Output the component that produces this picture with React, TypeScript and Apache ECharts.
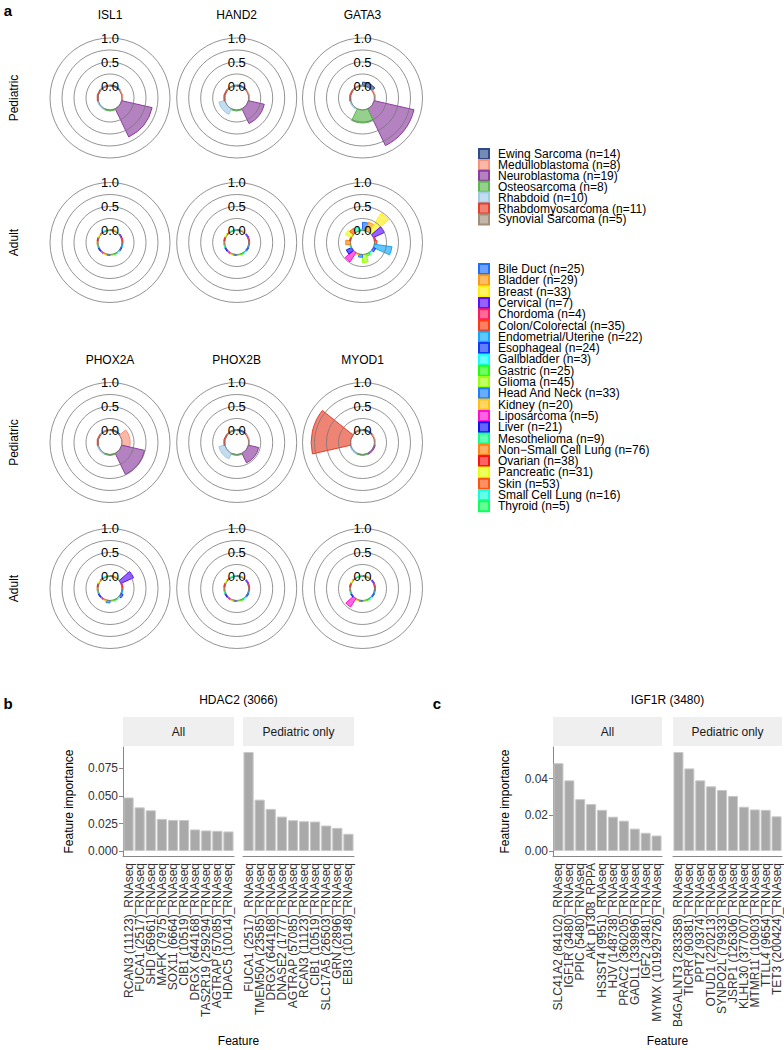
import React, { useEffect, useRef } from 'react';
import * as echarts from 'echarts';

const FONT = '"Liberation Sans", Arial, sans-serif';

// ---------- panel a data ----------
const genes = ['ISL1', 'HAND2', 'GATA3', 'PHOX2A', 'PHOX2B', 'MYOD1'];

const pedCategories = [
  'Ewing Sarcoma (n=14)',
  'Medulloblastoma (n=8)',
  'Neuroblastoma (n=19)',
  'Osteosarcoma (n=8)',
  'Rhabdoid (n=10)',
  'Rhabdomyosarcoma (n=11)',
  'Synovial Sarcoma (n=5)',
];
const pedColors = ['#2e4b8b', '#f7937a', '#8c3d9f', '#5cb84e', '#9fcbe6', '#e6402a', '#a38e79'];

const adultCategories = [
  'Bile Duct (n=25)',
  'Bladder (n=29)',
  'Breast (n=33)',
  'Cervical (n=7)',
  'Chordoma (n=4)',
  'Colon/Colorectal (n=35)',
  'Endometrial/Uterine (n=22)',
  'Esophageal (n=24)',
  'Gallbladder (n=3)',
  'Gastric (n=25)',
  'Glioma (n=45)',
  'Head And Neck (n=33)',
  'Kidney (n=20)',
  'Liposarcoma (n=5)',
  'Liver (n=21)',
  'Mesothelioma (n=9)',
  'Non\u2212Small Cell Lung (n=76)',
  'Ovarian (n=38)',
  'Pancreatic (n=31)',
  'Skin (n=53)',
  'Small Cell Lung (n=16)',
  'Thyroid (n=5)',
];
const adultColors = [
  '#1f6fff', '#ff9a10', '#ffee10', '#5a10ff', '#ff1a5e', '#ff3a10',
  '#10a8ff', '#1038ff', '#10ffff', '#20ff10', '#9cff10', '#1a80ff',
  '#ffc010', '#ff10d0', '#1010ff', '#10ff88', '#ff8410', '#ff1010',
  '#e4ff10', '#ff5410', '#10ffd8', '#10ff5a',
];

// pediatric values (one per pediatric category)
const pedISL1 = [0, 0, 0.65, 0, 0, 0, 0];
const pedHAND2 = [0, 0, 0.34, 0, 0.13, 0, 0];
const pedGATA3 = [0.08, 0, 0.85, 0.27, 0, 0, 0];
const pedPHOX2A = [0, 0.17, 0.49, 0, 0, 0, 0];
const pedPHOX2B = [0, 0, 0.22, 0, 0.13, 0, 0];
const pedMYOD1 = [0, 0, 0, 0, 0, 0.82, 0];

// adult values (one per adult category)
const adultISL1 = [0, 0, 0, 0, 0, 0, 0, 0, 0, 0, 0, 0, 0, 0, 0, 0, 0, 0, 0, 0, 0, 0];
const adultHAND2 = [0, 0, 0, 0, 0, 0, 0, 0, 0, 0, 0, 0, 0, 0, 0, 0, 0, 0, 0, 0, 0, 0];
const adultGATA3 = [0.17, 0.19, 0.47, 0.25, 0.03, 0.05, 0.37, 0.05, 0, 0.05, 0.17, 0.06, 0.02, 0.23, 0.12, 0, 0.1, 0.02, 0.14, 0.1, 0.08, 0];
const adultPHOX2A = [0, 0, 0, 0.29, 0, 0, 0, 0.05, 0, 0, 0, 0.05, 0, 0, 0, 0, 0, 0, 0, 0, 0, 0];
const adultPHOX2B = [0, 0, 0, 0, 0, 0, 0, 0, 0, 0, 0, 0, 0, 0, 0, 0, 0, 0, 0, 0, 0, 0];
const adultMYOD1 = [0, 0, 0, 0, 0, 0, 0, 0, 0, 0, 0, 0, 0, 0.21, 0, 0, 0, 0, 0, 0, 0, 0];

const radialTicks = [0, 0.5, 1];

// ---------- panel b data ----------
const hdacAllLabels = [
  'RCAN3 (11123)_RNAseq', 'FUCA1 (2517)_RNAseq', 'SHD (56961)_RNAseq', 'MAFK (7975)_RNAseq',
  'SOX11 (6664)_RNAseq', 'CIB1 (10519)_RNAseq', 'DRGX (644168)_RNAseq', 'TAS2R19 (259294)_RNAseq',
  'AGTRAP (57085)_RNAseq', 'HDAC5 (10014)_RNAseq',
];
const hdacAllValues = [0.0487, 0.0397, 0.037, 0.0292, 0.0283, 0.0282, 0.0196, 0.0187, 0.0184, 0.0178];
const hdacPedLabels = [
  'FUCA1 (2517)_RNAseq', 'TMEM50A (23585)_RNAseq', 'DRGX (644168)_RNAseq', 'DNASE2 (1777)_RNAseq',
  'AGTRAP (57085)_RNAseq', 'RCAN3 (11123)_RNAseq', 'CIB1 (10519)_RNAseq', 'SLC17A5 (26503)_RNAseq',
  'GRN (2896)_RNAseq', 'EBI3 (10148)_RNAseq',
];
const hdacPedValues = [0.09, 0.0467, 0.0383, 0.0313, 0.028, 0.0271, 0.0268, 0.0232, 0.0211, 0.0157];
const hdacTicks = [0, 0.025, 0.05, 0.075];

// ---------- panel c data ----------
const igfAllLabels = [
  'SLC41A2 (84102)_RNAseq', 'IGF1R (3480)_RNAseq', 'PPIC (5480)_RNAseq', 'Akt_pT308_RPPA',
  'HS3ST4 (9951)_RNAseq', 'HJV (148738)_RNAseq', 'PRAC2 (360205)_RNAseq', 'GADL1 (339896)_RNAseq',
  'IGF2 (3481)_RNAseq', 'MYMX (101929726)_RNAseq',
];
const igfAllValues = [0.0486, 0.0391, 0.0287, 0.026, 0.0228, 0.019, 0.0168, 0.0124, 0.0101, 0.0086];
const igfPedLabels = [
  'B4GALNT3 (283358)_RNAseq', 'TICRR (90381)_RNAseq', 'PPT2 (9374)_RNAseq', 'OTUD1 (220213)_RNAseq',
  'SYNPO2L (79933)_RNAseq', 'JSRP1 (126306)_RNAseq', 'KLHL30 (377007)_RNAseq', 'MTMR11 (10903)_RNAseq',
  'TTLL4 (9654)_RNAseq', 'TET3 (200424)_RNAseq',
];
const igfPedValues = [0.0548, 0.0457, 0.0391, 0.0358, 0.0338, 0.0305, 0.0245, 0.023, 0.0228, 0.0192];
const igfTicks = [0, 0.02, 0.04];

function rgba(hex: string, a: number) {
  const n = parseInt(hex.slice(1), 16);
  return `rgba(${(n >> 16) & 255},${(n >> 8) & 255},${n & 255},${a})`;
}

function buildOption() {
  const pedValues = [pedISL1, pedHAND2, pedGATA3, pedPHOX2A, pedPHOX2B, pedMYOD1];
  const adultValues = [adultISL1, adultHAND2, adultGATA3, adultPHOX2A, adultPHOX2B, adultMYOD1];
  const colX = [110, 236.7, 362.5];
  const pedY = [98, 442.5];
  const adultY = [242.5, 588.5];
  const R = 60;

  const polar: any[] = [];
  const radiusAxis: any[] = [];
  const angleAxis: any[] = [];
  const series: any[] = [];
  const graphic: any[] = [];

  const addPolar = (cx: number, cy: number, cats: string[], colors: string[], vals: number[]) => {
    const pi = polar.length;
    polar.push({ center: [cx, cy], radius: R });
    radiusAxis.push({
      polarIndex: pi,
      type: 'value',
      min: -0.25,
      max: 1,
      interval: 0.25,
      z: 3,
      axisLine: { show: false },
      axisTick: { show: false },
      axisLabel: {
        formatter: (v: number) => (radialTicks.some((t) => Math.abs(t - v) < 1e-9) ? v.toFixed(1) : ''),
        margin: 0,
        align: 'center',
        verticalAlign: 'middle',
        fontSize: 13,
        fontFamily: FONT,
        color: '#000',
      },
      splitLine: { show: true, lineStyle: { color: '#777', width: 0.8 } },
    });
    angleAxis.push({
      polarIndex: pi,
      type: 'category',
      data: cats,
      startAngle: 90,
      clockwise: true,
      boundaryGap: true,
      axisLine: { show: false },
      axisTick: { show: false },
      axisLabel: { show: false },
      splitLine: { show: false },
    });
    cats.forEach((name, c) => {
      series.push({
        type: 'bar',
        coordinateSystem: 'polar',
        polarIndex: pi,
        name,
        data: cats.map((_, k) => (k === c ? vals[c] : '-')),
        barGap: '-100%',
        barCategoryGap: '0%',
        barMinHeight: 1,
        silent: true,
        z: 2,
        itemStyle: { color: rgba(colors[c], 0.65), borderColor: colors[c], borderWidth: 1 },
      });
    });
  };

  genes.forEach((g, gi) => {
    const col = gi % 3;
    const blk = Math.floor(gi / 3);
    addPolar(colX[col], pedY[blk], pedCategories, pedColors, pedValues[gi]);
    addPolar(colX[col], adultY[blk], adultCategories, adultColors, adultValues[gi]);
    graphic.push({
      type: 'text',
      x: colX[col],
      y: blk === 0 ? 15 : 359.5,
      style: { text: g, align: 'center', verticalAlign: 'middle', fontSize: 12, fontFamily: FONT, fill: '#000' },
    });
  });

  [98, 442.5].forEach((y) =>
    graphic.push({
      type: 'text', x: 14, y, rotation: Math.PI / 2,
      style: { text: 'Pediatric', align: 'center', verticalAlign: 'middle', fontSize: 12, fontFamily: FONT, fill: '#000' },
    })
  );
  [242.5, 588.5].forEach((y) =>
    graphic.push({
      type: 'text', x: 14, y, rotation: Math.PI / 2,
      style: { text: 'Adult', align: 'center', verticalAlign: 'middle', fontSize: 12, fontFamily: FONT, fill: '#000' },
    })
  );

  // panel letters
  [['a', 8, 10], ['b', 8, 703], ['c', 437, 703]].forEach(([t, x, y]) =>
    graphic.push({
      type: 'text', x, y,
      style: { text: t, align: 'center', verticalAlign: 'middle', fontSize: 15, fontWeight: 'bold', fontFamily: FONT, fill: '#000' },
    })
  );

  // ---------- bar panels ----------
  const grids: any[] = [];
  const xAxis: any[] = [];
  const yAxis: any[] = [];
  const panelTop = 747;
  const panelH = 109;

  const addBarPanel = (
    left: number, width: number, labels: string[], values: number[], ymin: number, ymax: number,
    ticks: number[], digits: number, showY: boolean, nameGap: number, strip: string
  ) => {
    const gi = grids.length;
    grids.push({ left, top: panelTop, width, height: panelH });
    xAxis.push({
      gridIndex: gi,
      type: 'category',
      data: labels,
      axisLine: { onZero: false, lineStyle: { color: '#888', width: 1 } },
      axisTick: { alignWithLabel: true, length: 4, lineStyle: { color: '#888' } },
      axisLabel: { rotate: 90, interval: 0, fontSize: 12, fontFamily: FONT, color: '#333', margin: 7 },
      splitLine: { show: false },
    });
    yAxis.push({
      gridIndex: gi,
      type: 'value',
      min: ymin,
      max: ymax,
      show: showY,
      name: showY ? 'Feature importance' : '',
      nameLocation: 'middle',
      nameGap,
      nameTextStyle: { fontSize: 12, fontFamily: FONT, color: '#000' },
      axisLine: { show: true, lineStyle: { color: '#888', width: 1 } },
      axisTick: { show: true, length: 4, customValues: ticks, lineStyle: { color: '#888' } },
      axisLabel: {
        customValues: ticks,
        formatter: (v: number) => v.toFixed(digits),
        fontSize: 12, fontFamily: FONT, color: '#333', margin: 5,
      },
      splitLine: { show: false },
    });
    series.push({
      type: 'bar',
      xAxisIndex: gi,
      yAxisIndex: gi,
      data: values,
      barCategoryGap: '8%',
      silent: true,
      itemStyle: { color: '#a9a9a9', borderColor: '#c9c9c9', borderWidth: 1 },
    });
    graphic.push({
      type: 'rect', shape: { x: left, y: 717, width, height: 29 }, style: { fill: '#efefef' }, z: 0,
    });
    graphic.push({
      type: 'text', x: left + width / 2, y: 732,
      style: { text: strip, align: 'center', verticalAlign: 'middle', fontSize: 12, fontFamily: FONT, fill: '#1a1a1a' },
    });
  };

  const hMax = Math.max(...hdacAllValues, ...hdacPedValues);
  const iMax = Math.max(...igfAllValues, ...igfPedValues);
  addBarPanel(123, 111, hdacAllLabels, hdacAllValues, -hMax * 0.05, hMax * 1.05, hdacTicks, 3, true, 48, 'All');
  addBarPanel(243, 111, hdacPedLabels, hdacPedValues, -hMax * 0.05, hMax * 1.05, hdacTicks, 3, false, 48, 'Pediatric only');
  addBarPanel(553, 109, igfAllLabels, igfAllValues, -iMax * 0.05, iMax * 1.05, igfTicks, 2, true, 42, 'All');
  addBarPanel(673, 109, igfPedLabels, igfPedValues, -iMax * 0.05, iMax * 1.05, igfTicks, 2, false, 42, 'Pediatric only');

  [['HDAC2 (3066)', 238.5, 700], ['IGF1R (3480)', 667.5, 700], ['Feature', 238.5, 1041], ['Feature', 667.5, 1041]].forEach(
    ([t, x, y]) =>
      graphic.push({
        type: 'text', x, y,
        style: { text: t, align: 'center', verticalAlign: 'middle', fontSize: 12, fontFamily: FONT, fill: '#000' },
      })
  );

  const legendBase = {
    orient: 'vertical',
    left: 478,
    padding: 0,
    itemWidth: 10,
    itemHeight: 10,
    icon: 'rect',
    selectedMode: false,
    textStyle: { fontSize: 12, fontFamily: FONT, color: '#000', padding: [0, 0, 0, 4] },
  };

  return {
    animation: false,
    backgroundColor: '#fff',
    textStyle: { fontFamily: FONT },
    polar,
    radiusAxis,
    angleAxis,
    grid: grids,
    xAxis,
    yAxis,
    legend: [
      { ...legendBase, top: 148, itemGap: -1.1, data: pedCategories },
      { ...legendBase, top: 263, itemGap: -0.7, data: adultCategories },
    ],
    graphic,
    series,
  };
}

export default function App() {
  const ref = useRef<HTMLDivElement>(null);
  useEffect(() => {
    document.body.style.margin = '0';
    if (!ref.current) return;
    const chart = echarts.init(ref.current, undefined, { renderer: 'svg', width: 784, height: 1050 });
    chart.setOption(buildOption() as any);
    return () => chart.dispose();
  }, []);
  return <div ref={ref} style={{ width: 784, height: 1050 }} />;
}
